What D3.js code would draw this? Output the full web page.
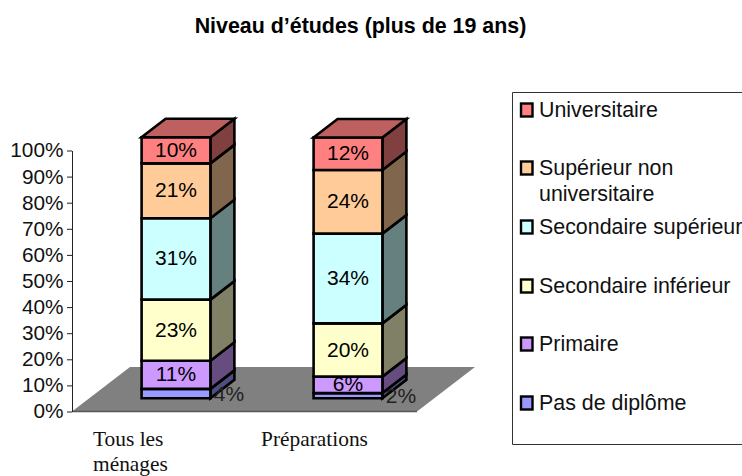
<!DOCTYPE html>
<html><head><meta charset="utf-8">
<script src="https://cdn.jsdelivr.net/npm/d3@7/dist/d3.min.js"></script>
<style>html,body{margin:0;padding:0;background:#fff}svg{display:block}text{fill:#000}</style>
</head><body><svg id="c" width="742" height="476"></svg>
<script>
const title = "Niveau d’études (plus de 19 ans)";
const categories = ["Tous les ménages", "Préparations"];
const seriesNames = ["Pas de diplôme","Primaire","Secondaire inférieur","Secondaire supérieur","Supérieur non universitaire","Universitaire"];
const valuesMenages = [3.6,10.8,23.4,31.2,21,10];
const valuesPreparations = [2,6.3,20.4,34.4,24.4,12.4];
const labelsMenages = ["4%","11%","23%","31%","21%","10%"];
const labelsPreparations = ["2%","6%","20%","34%","24%","12%"];
const fronts = ["#9999ff","#cc99ff","#ffffcc","#ccffff","#ffcc99","#ff8080"];
const tickValues = [0,10,20,30,40,50,60,70,80,90,100];

const svg = d3.select("#c");
const sans = "'Liberation Sans',Arial,sans-serif", serif = "'Liberation Serif',serif";
const axisX=72, y0=411.5, y100=150.5, floorDx=58, floorDy=-44.5, floorRight=417;
const barDx=24, barDy=-18.5, baseShift=13.2;
const y = d3.scaleLinear().domain([0,100]).range([y0,y100]);
const x = d3.scaleBand().domain(categories).range([90,434]).paddingInner(.6).paddingOuter(.3);
const line = d3.line();
const poly = (pts,fill,sw=2.6)=>svg.append("path").attr("d",line(pts)+"Z").attr("fill",fill)
  .attr("stroke","#000").attr("stroke-width",sw).attr("stroke-linejoin","miter");

svg.append("text").text(title).attr("x",360.5).attr("y",33).attr("text-anchor","middle")
  .attr("font-family",sans).attr("font-weight","bold").attr("font-size",21.4);

// floor
svg.append("path").attr("d",line([[axisX,y0],[axisX+floorDx,y0+floorDy],[floorRight+floorDx,y0+floorDy],[floorRight,y0]])+"Z")
  .attr("fill","#808080");
svg.append("line").attr("x1",axisX).attr("x2",floorRight).attr("y1",y0).attr("y2",y0).attr("stroke","#555").attr("stroke-width",1.5);

// axis
const ax = svg.append("g").attr("transform",`translate(${axisX},0)`)
  .call(d3.axisLeft(y).tickValues(tickValues).tickFormat(d=>d+"%").tickSize(5).tickSizeOuter(0));
ax.selectAll("path,line").attr("stroke","#222").attr("stroke-width",1);
ax.selectAll("text").attr("font-family",sans).attr("font-size",20.8).attr("dy",".31em").attr("x",-8.5).style("fill","#111");

// bars
const sets=[[categories[0],valuesMenages,labelsMenages],[categories[1],valuesPreparations,labelsPreparations]];
sets.forEach(([cat,vals,labs],k)=>{
  const L=x(cat), R=L+x.bandwidth();
  let cum=0;
  const stack=vals.map(v=>{const a=cum;cum+=v;return [a,cum];});
  const Y=v=>y(v)-baseShift;
  stack.forEach(([a,b],i)=>{
    const col=d3.color(fronts[i]);
    const side=d3.rgb(col.r/2,col.g/2,col.b/2).formatHex();
    poly([[R,Y(a)],[R+barDx,Y(a)+barDy],[R+barDx,Y(b)+barDy],[R,Y(b)]],side);
    poly([[L,Y(a)],[R,Y(a)],[R,Y(b)],[L,Y(b)]],fronts[i]);
  });
  const T=Y(cum);
  const tc=d3.color(fronts[5]);
  poly([[L,T],[R,T],[R+barDx,T+barDy],[L+barDx,T+barDy]],d3.rgb(tc.r*.75,tc.g*.75,tc.b*.75).formatHex());
  stack.forEach(([a,b],i)=>{
    const outside=i===0;
    svg.append("text").text(labs[i])
      .attr("x",outside?R+18.5:(L+R)/2)
      .attr("y",(Y(a)+Y(b))/2-(outside?0:1))
      .attr("dy",".36em").attr("text-anchor","middle")
      .attr("font-family",sans).attr("font-size",21).style("fill",outside?"#222":"#000");
  });
});

// category labels
const catLines=[["Tous les","ménages"],["Préparations"]];
const catX=[93,261];
catLines.forEach((ls,i)=>ls.forEach((s,j)=>svg.append("text").text(s).attr("x",catX[i]).attr("y",445.5+j*25.3)
  .attr("font-family",serif).attr("font-size",21.4).style("fill","#111")));

// legend
svg.append("path").attr("d","M742,92.5H512.5V444.5H742").attr("fill","none").attr("stroke","#333").attr("stroke-width",1);
const legendOrder=[5,4,3,2,1,0];
const legendLines=[["Universitaire"],["Supérieur non","universitaire"],["Secondaire supérieur"],["Secondaire inférieur"],["Primaire"],["Pas de diplôme"]];
const legendY=[110,168,227,286,344,403];
legendOrder.forEach((s,i)=>{
  svg.append("rect").attr("x",521).attr("y",legendY[i]-6.5).attr("width",11.5).attr("height",13)
    .attr("fill",fronts[s]).attr("stroke","#000").attr("stroke-width",2.4);
  legendLines[i].forEach((t,j)=>svg.append("text").text(t).attr("x",539).attr("y",legendY[i]+j*25.5-0.5)
    .attr("dy",".36em").attr("font-family",sans).attr("font-size",21.4).style("fill","#111"));
});
</script></body></html>
